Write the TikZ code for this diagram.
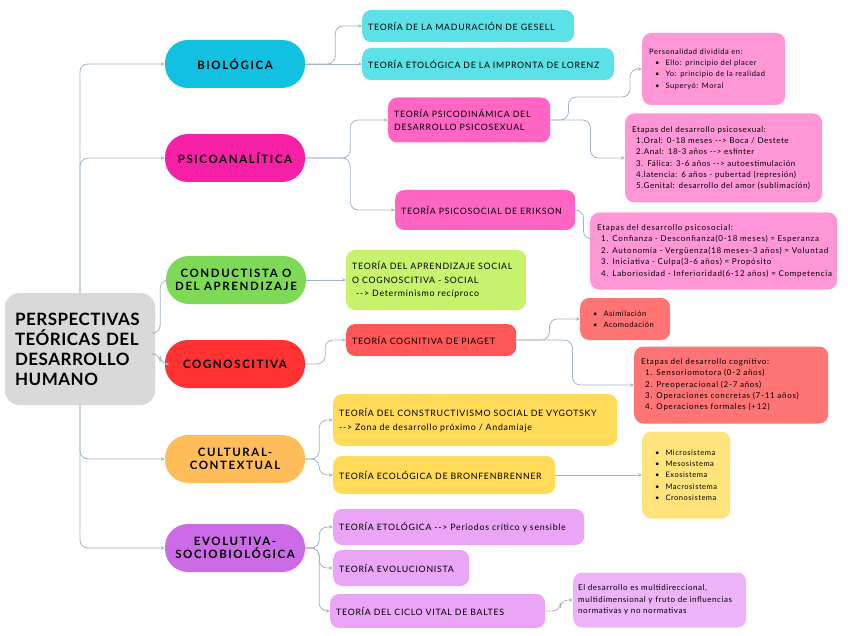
\documentclass[tikz,border=0pt]{standalone}
\usepackage{fontspec}
\setmainfont{Lato}
\newfontfamily\rootfont[LetterSpace=3]{Lato}
\newfontfamily\branchfont[LetterSpace=14]{Lato}
\newfontfamily\theoryfont[LetterSpace=8]{Lato}
\newfontfamily\notefont[LetterSpace=7]{Lato}
\newfontfamily\widefont[LetterSpace=9]{Lato}
\usetikzlibrary{arrows.meta}
\definecolor{rootGray}{HTML}{D9D9D9}
\definecolor{connGray}{HTML}{A3B5C6}
\definecolor{bioDark}{HTML}{12C1DF}
\definecolor{bioLight}{HTML}{5CE1E6}
\definecolor{psyDark}{HTML}{F520A6}
\definecolor{psyLight}{HTML}{FF66C4}
\definecolor{psyNote}{HTML}{FF97D6}
\definecolor{condDark}{HTML}{7ED957}
\definecolor{condLight}{HTML}{C6F26C}
\definecolor{cogDark}{HTML}{FF3131}
\definecolor{cogLight}{HTML}{FF5757}
\definecolor{cogNote}{HTML}{FF7474}
\definecolor{cultDark}{HTML}{FFBD59}
\definecolor{cultLight}{HTML}{FFDB59}
\definecolor{cultNote}{HTML}{FFE47D}
\definecolor{evoDark}{HTML}{CB6CE6}
\definecolor{evoLight}{HTML}{EAA5F7}
\definecolor{evoNote}{HTML}{EDB3F7}
\newcommand{\dashto}{-{}->}
\newcommand{\bul}{\hspace*{6pt}\textbullet\hspace{6pt}}
\newcommand{\num}{\hspace*{4pt}}

\begin{document}
\begin{tikzpicture}[x=1pt, y=-1pt,
    root/.style={rectangle, rounded corners=14pt, fill=rootGray,
                 minimum width=150pt, minimum height=112pt, align=left,
                 text width=130pt, inner xsep=10pt,
                 font=\rootfont\bfseries\fontsize{17}{20}\selectfont},
    branch/.style={rectangle, rounded corners=23pt,
                   minimum width=140pt, minimum height=48pt, align=center,
                   font=\branchfont\bfseries\fontsize{11.5}{13.5}\selectfont},
    theory/.style={rectangle, rounded corners=9pt, anchor=west,
                   align=left, inner xsep=6pt,
                   font=\theoryfont\fontsize{8.8}{13.5}\selectfont},
    note/.style={rectangle, rounded corners=9pt, anchor=west,
                 align=left, inner xsep=7pt,
                 font=\notefont\fontsize{7.5}{11.3}\selectfont},
    conn/.style={draw=connGray, line width=0.8pt, rounded corners=8pt,
                 -{Stealth[length=4pt,width=3.5pt]}},
    elbow/.style={to path={-- ++(#1,0) |- (\tikztotarget) \tikztonodes}}
  ]
    \useasboundingbox (0,0) rectangle (848,636);

    % root and main branches
    \node[root] (root) at (80,349) {PERSPECTIVAS\\TEÓRICAS DEL\\DESARROLLO\\HUMANO};
    \node[branch, fill=bioDark]  (bio)  at (235,64)  {BIOLÓGICA};
    \node[branch, fill=psyDark]  (psy)  at (235,158) {PSICOANALÍTICA};
    \node[branch, fill=condDark] (cond) at (236,280) {CONDUCTISTA O\\DEL APRENDIZAJE};
    \node[branch, fill=cogDark]  (cog)  at (235,364) {COGNOSCITIVA};
    \node[branch, fill=cultDark] (cult) at (235,459) {CULTURAL-\\CONTEXTUAL};
    \node[branch, fill=evoDark]  (evo)  at (235,548) {EVOLUTIVA-\\SOCIOBIOLÓGICA};

    % biologica
    \node[theory, fill=bioLight, text width=200pt, minimum height=32pt] (gesell) at (362,26) {TEORÍA DE LA MADURACIÓN DE GESELL};
    \node[theory, fill=bioLight, text width=240pt, minimum height=32pt] (lorenz) at (362,64) {TEORÍA ETOLÓGICA DE LA IMPRONTA DE LORENZ};

    % psicoanalitica
    \node[theory, fill=psyLight, text width=150pt, minimum height=45pt] (psicodin) at (388,120) {TEORÍA PSICODINÁMICA DEL\\DESARROLLO PSICOSEXUAL};
    \node[theory, fill=psyLight, text width=168pt, minimum height=40pt] (erikson) at (395,210) {TEORÍA PSICOSOCIAL DE ERIKSON};
    \node[note, fill=psyNote, text width=129pt, minimum height=72pt] (perso) at (642,69)
      {Personalidad dividida en:\\\bul Ello: principio del placer\\\bul Yo: principio de la realidad\\\bul Superyó: Moral};
    \node[note, fill=psyNote, text width=183pt, minimum height=89pt,
          font=\notefont\fontsize{8}{11.3}\selectfont] (sexual) at (625,158)
      {Etapas del desarrollo psicosexual:\\
       \num 1.Oral: 0-18 meses \dashto{} Boca / Destete\\
       \num 2.Anal: 18-3 años \dashto{} esfínter\\
       \num 3. Fálica: 3-6 años \dashto{} autoestimulación\\
       \num 4.latencia: 6 años - pubertad (represión)\\
       \num 5.Genital: desarrollo del amor (sublimación)};
    \node[note, fill=psyNote, text width=233pt, minimum height=77pt,
          font=\widefont\fontsize{8}{11.5}\selectfont] (social) at (590,251)
      {Etapas del desarrollo psicosocial:\\
       \num 1. Confianza - Desconfianza(0-18 meses) = Esperanza\\
       \num 2. Autonomía - Vergüenza(18 meses-3 años) = Voluntad\\
       \num 3. Iniciativa - Culpa(3-6 años) = Propósito\\
       \num 4. Laboriosidad - Inferioridad(6-12 años) = Competencia};

    % conductista
    \node[theory, fill=condLight, text width=168pt, minimum height=60pt] (aprend) at (346,280)
      {TEORÍA DEL APRENDIZAJE SOCIAL\\O COGNOSCITIVA - SOCIAL\\\num\dashto{} Determinismo recíproco};

    % cognoscitiva
    \node[theory, fill=cogLight, text width=158pt, minimum height=32pt] (piaget) at (346,340) {TEORÍA COGNITIVA DE PIAGET};
    \node[note, fill=cogNote, text width=76pt, minimum height=42pt] (asimil) at (580,319)
      {\bul Asimilación\\\bul Acomodación};
    \node[note, fill=cogNote, text width=180pt, minimum height=77pt,
          font=\widefont\fontsize{8}{11.3}\selectfont] (cognit) at (634,385)
      {Etapas del desarrollo cognitivo:\\
       \num 1. Sensoriomotora (0-2 años)\\
       \num 2. Preoperacional (2-7 años)\\
       \num 3. Operaciones concretas (7-11 años)\\
       \num 4. Operaciones formales (+12)};

    % cultural
    \node[theory, fill=cultLight, text width=272pt, minimum height=52pt] (vygot) at (333,420)
      {TEORÍA DEL CONSTRUCTIVISMO SOCIAL DE VYGOTSKY\\\dashto{} Zona de desarrollo próximo / Andamiaje};
    \node[theory, fill=cultLight, text width=210pt, minimum height=38pt] (bronf) at (333,475) {TEORÍA ECOLÓGICA DE BRONFENBRENNER};
    \node[note, fill=cultNote, text width=74pt, minimum height=87pt] (sistemas) at (642,475)
      {\bul Microsistema\\\bul Mesosistema\\\bul Exosistema\\\bul Macrosistema\\\bul Cronosistema};

    % evolutiva
    \node[theory, fill=evoLight, text width=239pt, minimum height=36pt] (etolog) at (333,527)
      {TEORÍA ETOLÓGICA \dashto{} Periodos crítico y sensible};
    \node[theory, fill=evoLight, text width=124pt, minimum height=36pt] (evoluc) at (333,568) {TEORÍA EVOLUCIONISTA};
    \node[theory, fill=evoLight, text width=203pt, minimum height=34pt] (baltes) at (330,611) {TEORÍA DEL CICLO VITAL DE BALTES};
    \node[note, fill=evoNote, text width=163pt, minimum height=55pt, inner xsep=5pt,
          font=\notefont\fontsize{8}{11.3}\selectfont] (vital) at (573,600)
      {El desarrollo es multidireccional,\\multidimensional y fruto de influencias\\normativas y no normativas};

    % connectors
    \draw[conn] (root.north) |- (bio.west);
    \draw[conn] (root.north) |- (psy.west);
    \draw[conn] ([yshift=16pt]root.east) to[elbow=5] (cond.west);
    \draw[conn] ([yshift=-5pt]root.east) to[elbow=5] (cog.west);
    \draw[conn] (root.south) |- (cult.west);
    \draw[conn] (root.south) |- (evo.west);

    \draw[conn] (bio.east) to[elbow=30] (gesell.west);
    \draw[conn] (bio.east) -- (lorenz.west);

    \draw[conn] (psy.east) to[elbow=45] (psicodin.west);
    \draw[conn] (psy.east) to[elbow=45] (erikson.west);
    \draw[conn] (psicodin.east) -- ++(18,0) |- ([xshift=-12pt,yshift=-28pt]perso.west) |- (perso.west);
    \draw[conn] (psicodin.east) to[elbow=40] (sexual.west);
    \draw[conn] (erikson.east) to[elbow=8] ([yshift=12pt]social.west);

    \draw[conn] (cond.east) -- (aprend.west);

    \draw[conn] (cog.east) to[elbow=20] (piaget.west);
    \draw[conn] (piaget.east) to[elbow=33] (asimil.west);
    \draw[conn] (piaget.east) to[elbow=56] (cognit.west);

    \draw[conn] (cult.east) to[elbow=14] (vygot.west);
    \draw[conn] (cult.east) to[elbow=14] (bronf.west);
    \draw[conn] (bronf.east) -- (sistemas.west);

    \draw[conn] (evo.east) to[elbow=14] (etolog.west);
    \draw[conn] (evo.east) to[elbow=14] (evoluc.west);
    \draw[conn] (evo.east) to[elbow=14] (baltes.west);
    \draw[conn] (baltes.east) to[elbow=15] (vital.west);
  \end{tikzpicture}
\end{document}
